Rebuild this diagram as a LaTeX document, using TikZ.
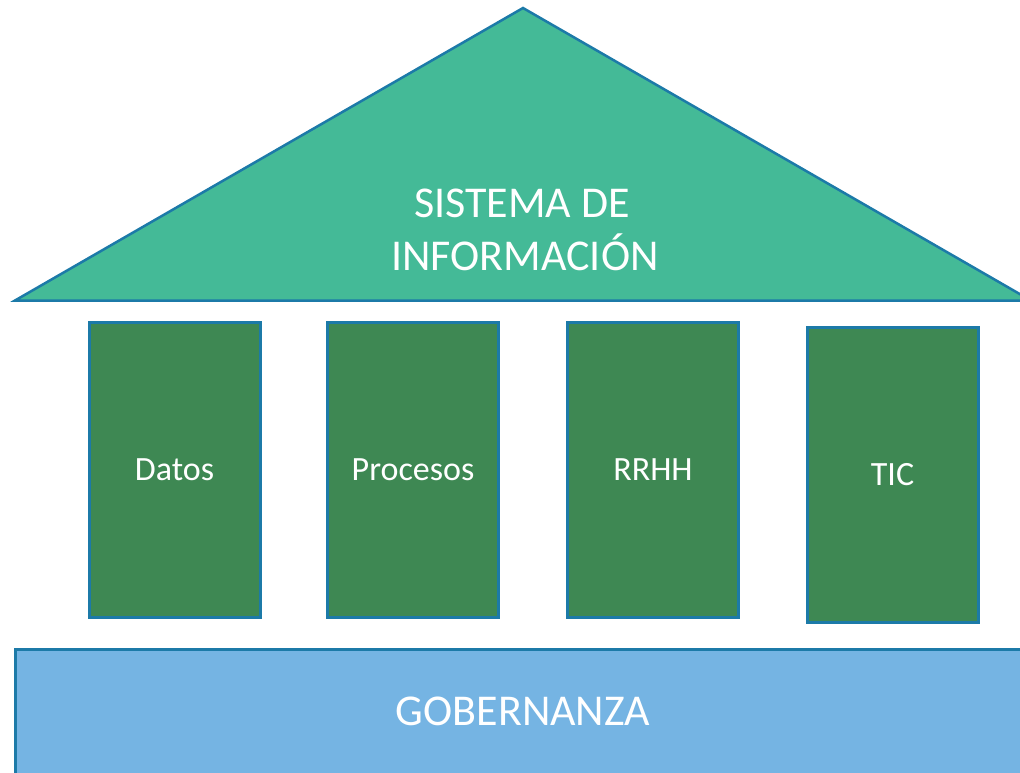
\documentclass[tikz,border=0pt]{standalone}
\usepackage{fontspec}
\setmainfont{Carlito}
\definecolor{roofgreen}{RGB}{68,186,151}
\definecolor{pillargreen}{RGB}{62,136,83}
\definecolor{baseblue}{RGB}{117,180,227}
\definecolor{edgeblue}{RGB}{28,122,168}
\tikzset{
  pillar/.style={draw=edgeblue, line width=3pt, fill=pillargreen, text=white,
    minimum width=171pt, minimum height=295pt, inner sep=0pt, outer sep=0pt,
    font=\fontsize{34}{40}\selectfont},
  bigtext/.style={text=white, inner sep=0pt, font=\fontsize{44}{53}\selectfont},
}
\begin{document}
\begin{tikzpicture}[x=1pt,y=-1pt]
\useasboundingbox (0,0) rectangle (1020,772);
% roof
\coordinate (apex) at (523,8);
\coordinate (bl) at (15,300.5);
\coordinate (br) at (1031,300.5);
\filldraw[fill=roofgreen, draw=edgeblue, line width=2.5pt, line join=miter] (apex) -- (br) -- (bl) -- cycle;
\node[bigtext, anchor=base] (roof1) at (522,217) {SISTEMA DE};
\node[bigtext, anchor=base] (roof2) at (525,270) {INFORMACIÓN};
% pillars
\node[pillar] (datos) at (174.5,469.5) {Datos};
\node[pillar] (procesos) at (413,469.5) {Procesos};
\node[pillar] (rrhh) at (653,469.5) {RRHH};
\node[pillar] (tic) at (892.5,475) {TIC};
% base
\path[draw=edgeblue, line width=3pt, fill=baseblue] (15,649) rectangle (1035,800);
\node[bigtext, anchor=base] (gob) at (523,725) {GOBERNANZA};
\end{tikzpicture}
\end{document}
